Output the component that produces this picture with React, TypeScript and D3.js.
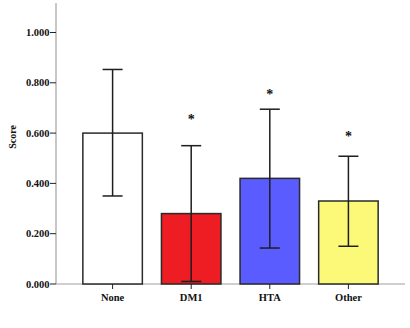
import React from "react";
import * as d3 from "d3";

const categories = ["None", "DM1", "HTA", "Other"];
const means = [0.6, 0.28, 0.42, 0.33];
const errHigh = [0.853, 0.55, 0.695, 0.508];
const errLow = [0.35, 0.01, 0.143, 0.15];
const colors = ["#ffffff", "#ee1c23", "#5a5cff", "#fcf878"];
const starValues = [null, 0.675, 0.775, 0.608];
const yTicks = [0, 0.2, 0.4, 0.6, 0.8, 1.0];

const W = 410;
const H = 328;
const x0 = 56;
const x1 = 405;
const yBottom = 284;

export default function App() {
  const y = d3.scaleLinear().domain([0, 1]).range([yBottom, 32.5]);
  const x = d3.scalePoint<string>().domain(categories).range([x0, x1]).padding(0.72);
  const barW = 59.5;
  const capW = 20;
  const font = "'Liberation Serif', 'Times New Roman', serif";
  return (
    <svg width={W} height={H} style={{ position: "absolute", left: 0, top: 0, background: "#fff" }}>
      <rect x={0} y={0} width={W} height={H} fill="#fff" />
      <line x1={x0} x2={x0} y1={3} y2={yBottom} stroke="#b4b4b4" strokeWidth={1.5} />
      <line x1={x0} x2={x1} y1={yBottom} y2={yBottom} stroke="#a0a0a0" strokeWidth={1.2} />
      {yTicks.map((t) => (
        <g key={t}>
          <line x1={x0 - 6} x2={x0} y1={y(t)} y2={y(t)} stroke="#222" strokeWidth={1} />
          <text x={x0 - 6.5} y={y(t)} dy="0.35em" textAnchor="end" fontFamily={font} fontWeight="bold" fontSize={10.5} fill="#111">
            {d3.format(".3f")(t)}
          </text>
        </g>
      ))}
      <text transform={`translate(16,137) rotate(-90)`} textAnchor="middle" fontFamily={font} fontWeight="bold" fontSize={10} fill="#111">
        Score
      </text>
      {categories.map((c, i) => {
        const cx = x(c) as number;
        return (
          <g key={c}>
            <rect x={cx - barW / 2} y={y(means[i])} width={barW} height={yBottom - y(means[i])} fill={colors[i]} stroke="#2a2a2a" strokeWidth={1.5} />
            <line x1={cx} x2={cx} y1={y(errHigh[i])} y2={y(errLow[i])} stroke="#1e1e1e" strokeWidth={1.5} />
            <line x1={cx - capW / 2} x2={cx + capW / 2} y1={y(errHigh[i])} y2={y(errHigh[i])} stroke="#1e1e1e" strokeWidth={1.5} />
            <line x1={cx - capW / 2} x2={cx + capW / 2} y1={y(errLow[i])} y2={y(errLow[i])} stroke="#1e1e1e" strokeWidth={1.5} />
            <line x1={cx} x2={cx} y1={yBottom} y2={yBottom + 5} stroke="#222" strokeWidth={1} />
            <text x={cx} y={yBottom + 17} textAnchor="middle" fontFamily={font} fontWeight="bold" fontSize={10.5} fill="#111">
              {c}
            </text>
            {starValues[i] !== null && (
              <text x={cx} y={y(starValues[i] as number)} dy="0.7em" textAnchor="middle" fontFamily={font} fontWeight="bold" fontSize={14} fill="#111">
                *
              </text>
            )}
          </g>
        );
      })}
    </svg>
  );
}
